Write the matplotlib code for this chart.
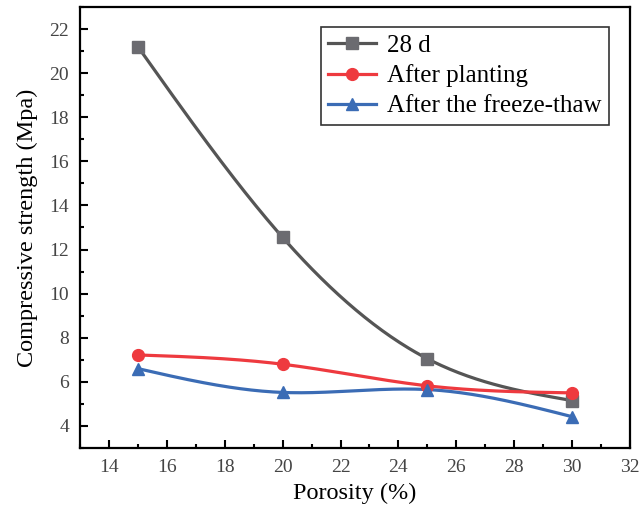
import numpy as np
import matplotlib
matplotlib.use("Agg")
import matplotlib.pyplot as plt
from matplotlib.ticker import MultipleLocator

porosity = [15, 20, 25, 30]
s28d = [21.2, 12.55, 7.05, 5.15]
planting = [7.22, 6.8, 5.82, 5.5]
freeze = [6.6, 5.52, 5.65, 4.42]

labels = ["28 d", "After planting", "After the freeze-thaw"]
line_colors = ["#555555", "#ee3a3f", "#3b6cb5"]
marker_colors = ["#6b6b70", "#ee3a3f", "#3b6cb5"]
markers = ["s", "o", "^"]


def natural_spline(x, y, n=200):
    x = np.asarray(x, float)
    y = np.asarray(y, float)
    k = len(x)
    h = np.diff(x)
    A = np.zeros((k, k))
    b = np.zeros(k)
    A[0, 0] = 1
    A[-1, -1] = 1
    for i in range(1, k - 1):
        A[i, i - 1] = h[i - 1]
        A[i, i] = 2 * (h[i - 1] + h[i])
        A[i, i + 1] = h[i]
        b[i] = 6 * ((y[i + 1] - y[i]) / h[i] - (y[i] - y[i - 1]) / h[i - 1])
    M = np.linalg.solve(A, b)
    xs = np.linspace(x[0], x[-1], n)
    ys = np.empty_like(xs)
    for j, xv in enumerate(xs):
        i = min(np.searchsorted(x, xv, side="right") - 1, k - 2)
        t1 = x[i + 1] - xv
        t0 = xv - x[i]
        ys[j] = (M[i] * t1 ** 3 / (6 * h[i]) + M[i + 1] * t0 ** 3 / (6 * h[i])
                 + (y[i] / h[i] - M[i] * h[i] / 6) * t1
                 + (y[i + 1] / h[i] - M[i + 1] * h[i] / 6) * t0)
    return xs, ys


plt.rcParams["font.family"] = ["Liberation Serif", "DejaVu Serif"]

fig = plt.figure(figsize=(6.41, 5.15), dpi=100)
ax = fig.add_axes([80 / 641, 1 - 448 / 515, 550 / 641, 441 / 515])

handles = []
for ys, lab, lc, mc, mk in zip([s28d, planting, freeze], labels, line_colors, marker_colors, markers):
    xs, yy = natural_spline(porosity, ys)
    ax.plot(xs, yy, color=lc, lw=2.3, zorder=2)
    ms = 8 if mk != "o" else 8.5
    ax.plot(porosity, ys, linestyle="none", marker=mk, color=mc, markersize=ms, zorder=3)
    h, = ax.plot([], [], color=lc, lw=2.3, marker=mk, markerfacecolor=mc,
                 markeredgecolor=mc, markersize=ms, label=lab)
    handles.append(h)

ax.set_xlim(13, 32)
ax.set_ylim(3, 23)
ax.xaxis.set_minor_locator(MultipleLocator(1))
ax.yaxis.set_minor_locator(MultipleLocator(1))
ax.set_xticks(np.arange(14, 33, 2))
ax.set_yticks(np.arange(4, 23, 2))
ax.tick_params(which="major", direction="in", length=6, width=1.5, labelsize=14,
               labelcolor="#444444", pad=8)
ax.tick_params(which="minor", direction="in", length=3, width=1.5)
for sp in ax.spines.values():
    sp.set_linewidth(1.6)

ax.set_xlabel("Porosity (%)", fontsize=17.5, labelpad=5)
ax.set_ylabel("Compressive strength (Mpa)", fontsize=17.5, labelpad=8)

leg = ax.legend(handles=handles, loc="upper right", bbox_to_anchor=(0.962, 0.955),
                borderaxespad=0, fontsize=18, frameon=True, fancybox=False,
                handlelength=1.9, handletextpad=0.45, borderpad=0.3, labelspacing=0.3)
leg.get_frame().set_edgecolor("black")
leg.get_frame().set_linewidth(1.2)

fig.savefig("out.png", dpi=100)
